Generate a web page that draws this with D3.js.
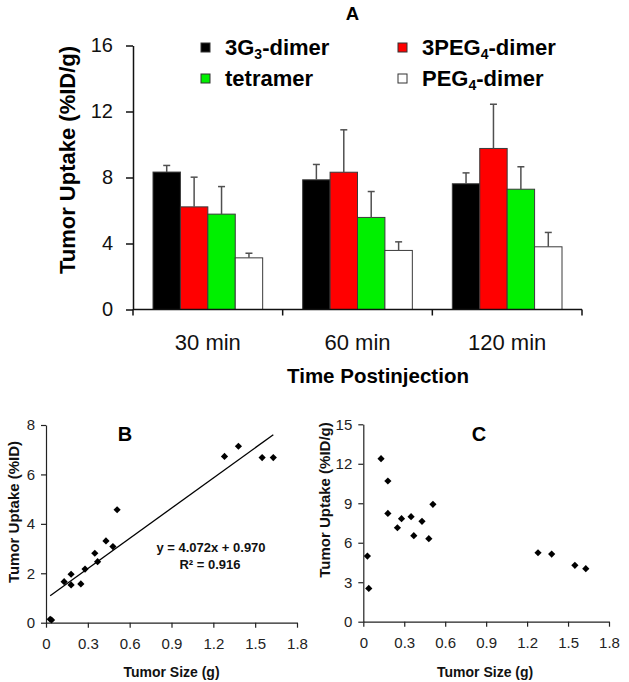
<!DOCTYPE html>
<html>
<head>
<meta charset="utf-8">
<script src="https://cdn.jsdelivr.net/npm/d3@7"></script>
<style>
  html, body { margin: 0; padding: 0; background: #fff; }
  svg { display: block; font-family: "Liberation Sans", Arial, Helvetica, sans-serif; }
</style>
</head>
<body>
<svg id="chart" width="629" height="682"></svg>
<script>
// ---------- Panel A data ----------
const categories = ["30 min", "60 min", "120 min"];
const seriesKeys = ["g3Dimer", "peg3Dimer", "tetramer", "peg4Dimer"];
const g3Dimer      = [8.33, 7.86, 7.62];
const g3DimerErr   = [0.40, 0.93, 0.66];
const peg3Dimer    = [6.22, 8.32, 9.76];
const peg3DimerErr = [1.80, 2.57, 2.68];
const tetramer     = [5.78, 5.58, 7.29];
const tetramerErr  = [1.67, 1.57, 1.36];
const peg4Dimer    = [3.13, 3.58, 3.80];
const peg4DimerErr = [0.28, 0.52, 0.87];
const yTicksA = [0, 4, 8, 12, 16];

// ---------- Panels B / C data ----------
const tumorSize  = [0.03, 0.04, 0.13, 0.18, 0.18, 0.25, 0.28, 0.35, 0.37, 0.43, 0.48, 0.51, 1.28, 1.38, 1.55, 1.63];
const uptakeID   = [0.14, 0.11, 1.66, 1.96, 1.53, 1.57, 2.17, 2.81, 2.47, 3.31, 3.08, 4.57, 6.73, 7.14, 6.68, 6.68];
const uptakeIDg  = [4.99, 2.53, 12.39, 10.69, 8.23, 7.14, 7.83, 7.98, 6.54, 7.63, 6.31, 8.92, 5.24, 5.14, 4.28, 4.03];
const trendSlope = 4.072;
const trendIntercept = 0.970;
const trendR2 = 0.916;
const xTicksBC = [0, 0.3, 0.6, 0.9, 1.2, 1.5, 1.8];
const yTicksB = [0, 2, 4, 6, 8];
const yTicksC = [0, 3, 6, 9, 12, 15];

// ---------- build ----------
const series = [
  { key: "g3Dimer",   values: g3Dimer,   errs: g3DimerErr,   fill: "#000000", label: ["3G", "3", "-dimer"] },
  { key: "peg3Dimer", values: peg3Dimer, errs: peg3DimerErr, fill: "#ff0000", label: ["3PEG", "4", "-dimer"] },
  { key: "tetramer",  values: tetramer,  errs: tetramerErr,  fill: "#00f000", label: ["tetramer", "", ""] },
  { key: "peg4Dimer", values: peg4Dimer, errs: peg4DimerErr, fill: "#ffffff", label: ["PEG", "4", "-dimer"] }
];

const svg = d3.select("#chart");
svg.append("rect").attr("width", 629).attr("height", 682).attr("fill", "#fff");

// ===== Panel A =====
const A = svg.append("g");
const xA = d3.scaleBand().domain(categories).range([133, 582]);
const xA1 = d3.scaleBand().domain(seriesKeys).range([20, xA.bandwidth() - 20]);
const yA = d3.scaleLinear().domain([0, 16]).range([309.5, 45.5]);

// bars
series.forEach(s => {
  categories.forEach((c, i) => {
    const x = xA(c) + xA1(s.key);
    const w = xA1.bandwidth();
    A.append("rect")
      .attr("x", x).attr("y", yA(s.values[i]))
      .attr("width", w).attr("height", yA(0) - yA(s.values[i]))
      .attr("fill", s.fill).attr("stroke", "#3a3a3a").attr("stroke-width", 1);
    const cx = x + w / 2;
    A.append("line")
      .attr("x1", cx).attr("x2", cx)
      .attr("y1", yA(s.values[i])).attr("y2", yA(s.values[i] + s.errs[i]))
      .attr("stroke", "#505050").attr("stroke-width", 1.5);
    A.append("line")
      .attr("x1", cx - 3.5).attr("x2", cx + 3.5)
      .attr("y1", yA(s.values[i] + s.errs[i])).attr("y2", yA(s.values[i] + s.errs[i]))
      .attr("stroke", "#505050").attr("stroke-width", 1.5);
  });
});

// y axis A
const yAxisA = A.append("g").attr("transform", "translate(133,0)")
  .call(d3.axisLeft(yA).tickValues(yTicksA).tickSize(7).tickSizeOuter(0).tickPadding(13).tickFormat(d3.format("d")));
yAxisA.selectAll("text").attr("font-size", 20).attr("fill", "#111").style("font-family", "Liberation Sans, Arial, sans-serif");
yAxisA.selectAll("path,line").attr("stroke", "#111").attr("stroke-width", 1.5);

// x axis A
const bounds = [xA.range()[0]].concat(categories.map(c => xA(c) + xA.bandwidth()));
A.append("line").attr("x1", bounds[0]).attr("x2", bounds[bounds.length - 1])
  .attr("y1", yA(0)).attr("y2", yA(0)).attr("stroke", "#111").attr("stroke-width", 1.5);
bounds.forEach(b => {
  A.append("line").attr("x1", b).attr("x2", b).attr("y1", yA(0)).attr("y2", yA(0) + 6)
    .attr("stroke", "#111").attr("stroke-width", 1.5);
});
categories.forEach(c => {
  A.append("text").attr("x", xA(c) + xA.bandwidth() / 2).attr("y", 350)
    .attr("text-anchor", "middle").attr("font-size", 22).attr("fill", "#111").text(c);
});
A.append("text").attr("x", 378).attr("y", 383).attr("text-anchor", "middle")
  .attr("font-size", 20.5).attr("font-weight", "bold").attr("fill", "#000").text("Time Postinjection");
A.append("text").attr("transform", "translate(75,160) rotate(-90)").attr("text-anchor", "middle")
  .attr("font-size", 22).attr("font-weight", "bold").attr("fill", "#000").text("Tumor Uptake (%ID/g)");
A.append("text").attr("x", 352.5).attr("y", 20).attr("text-anchor", "middle")
  .attr("font-size", 18.5).attr("font-weight", "bold").text("A");

// legend
const legendPos = [[201, 55], [398, 55], [201, 86], [398, 86]];
series.forEach((s, i) => {
  const [lx, ly] = legendPos[i];
  A.append("rect").attr("x", lx).attr("y", ly - 12).attr("width", 9).attr("height", 9)
    .attr("fill", s.fill).attr("stroke", "#333").attr("stroke-width", 1);
  const t = A.append("text").attr("x", lx + 24).attr("y", ly).attr("font-size", 22).attr("font-weight", "bold").attr("fill", "#000");
  t.append("tspan").text(s.label[0]);
  if (s.label[1]) {
    t.append("tspan").attr("font-size", 14).attr("dy", 4).text(s.label[1]);
    t.append("tspan").attr("dy", -4).text(s.label[2]);
  }
});

// ===== Scatter helper =====
function scatter(opts) {
  const g = svg.append("g");
  const x = d3.scaleLinear().domain([0, 1.8]).range(opts.xr);
  const y = d3.scaleLinear().domain([0, opts.ymax]).range(opts.yr);
  const xa = g.append("g").attr("transform", `translate(0,${opts.yr[0]})`)
    .call(d3.axisBottom(x).tickValues(xTicksBC).tickSize(5).tickSizeOuter(0).tickPadding(11)
      .tickFormat(d => d === 0 ? "0" : d3.format(".1f")(d)));
  const ya = g.append("g").attr("transform", `translate(${opts.xr[0]},0)`)
    .call(d3.axisLeft(y).tickValues(opts.yticks).tickSize(5).tickSizeOuter(0).tickPadding(6).tickFormat(d3.format("d")));
  [xa, ya].forEach(a => {
    a.selectAll("text").attr("font-size", 15).attr("fill", "#222").style("font-family", "Liberation Sans, Arial, sans-serif");
    a.selectAll("path,line").attr("stroke", "#222").attr("stroke-width", 1.2);
  });
  const sym = d3.symbol().type(d3.symbolSquare).size(26);
  opts.xs.forEach((xv, i) => {
    g.append("path").attr("d", sym())
      .attr("transform", `translate(${x(xv)},${y(opts.ys[i])}) rotate(45)`)
      .attr("fill", "#000");
  });
  g.append("text").attr("x", opts.titleX).attr("y", 441).attr("text-anchor", "middle")
    .attr("font-size", 20).attr("font-weight", "bold").text(opts.title);
  g.append("text").attr("x", (opts.xr[0] + opts.xr[1]) / 2 + opts.xlabOff).attr("y", 676.5)
    .attr("text-anchor", "middle").attr("font-size", 14).attr("font-weight", "bold").attr("fill", "#111").text("Tumor Size (g)");
  g.append("text").attr("transform", `translate(${opts.ylabX},${opts.ylabY}) rotate(-90)`)
    .attr("text-anchor", "middle").attr("font-size", 15).attr("font-weight", "bold").attr("fill", "#111").text(opts.ylab);
  return { g, x, y };
}

// ===== Panel B =====
const B = scatter({ xr: [46, 297], yr: [622.7, 425], ymax: 8, yticks: yTicksB, xs: tumorSize, ys: uptakeID,
  title: "B", titleX: 125, xlabOff: 0, ylab: "Tumor Uptake (%ID)", ylabX: 19, ylabY: 512 });
const ext = d3.extent(tumorSize);
B.g.append("line")
  .attr("x1", B.x(ext[0])).attr("y1", B.y(trendSlope * ext[0] + trendIntercept))
  .attr("x2", B.x(ext[1])).attr("y2", B.y(trendSlope * ext[1] + trendIntercept))
  .attr("stroke", "#000").attr("stroke-width", 1.3);
B.g.append("text").attr("x", 211).attr("y", 551.5).attr("text-anchor", "middle")
  .attr("font-size", 13).attr("font-weight", "bold").attr("fill", "#111")
  .text(`y = ${trendSlope.toFixed(3)}x + ${trendIntercept.toFixed(3)}`);
B.g.append("text").attr("x", 210).attr("y", 568.5).attr("text-anchor", "middle")
  .attr("font-size", 13).attr("font-weight", "bold").attr("fill", "#111")
  .text(`R² = ${trendR2.toFixed(3)}`);

// ===== Panel C =====
scatter({ xr: [363.3, 609], yr: [621.7, 424.3], ymax: 15, yticks: yTicksC, xs: tumorSize, ys: uptakeIDg,
  title: "C", titleX: 479, xlabOff: -1, ylab: "Tumor Uptake (%ID/g)", ylabX: 330, ylabY: 500 });
</script>
</body>
</html>
